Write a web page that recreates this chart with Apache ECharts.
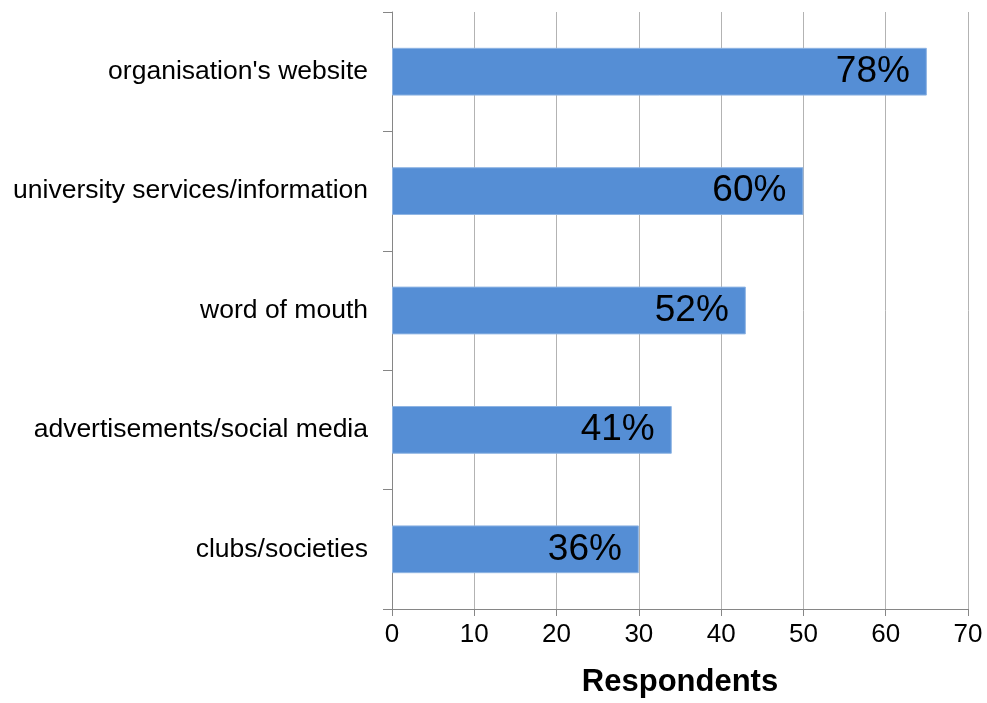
<!DOCTYPE html>
<html><head><meta charset="utf-8">
<script src="https://cdn.jsdelivr.net/npm/echarts@6/dist/echarts.min.js"></script>
<style>html,body{margin:0;padding:0;background:#fff}#c{width:987px;height:703px}</style>
</head><body><div id="c"></div>
<script>
const categories = ["clubs/societies", "advertisements/social media", "word of mouth", "university services/information", "organisation's website"];
const respondents = [30, 34, 43, 50, 65];
const percentLabels = ["36%", "41%", "52%", "60%", "78%"];
const xTicks = { min: 0, max: 70, interval: 10 };
const axisTitle = "Respondents";

const chart = echarts.init(document.getElementById('c'));
chart.setOption({
  animation: false,
  backgroundColor: '#ffffff',
  textStyle: { fontFamily: 'Liberation Sans, Arial, sans-serif' },
  grid: { left: 392, right: 19, top: 12, bottom: 86, containLabel: false },
  xAxis: {
    type: 'value', min: xTicks.min, max: xTicks.max, interval: xTicks.interval,
    name: axisTitle, nameLocation: 'middle', nameGap: 58,
    nameTextStyle: { fontSize: 31, fontWeight: 'bold', color: '#000', fontFamily: 'Liberation Sans, Arial, sans-serif' },
    axisLine: { show: true, lineStyle: { color: '#868686', width: 1 } },
    axisTick: { show: true, length: 7, lineStyle: { color: '#868686' } },
    axisLabel: { fontSize: 26, color: '#000', margin: 13, fontFamily: 'Liberation Sans, Arial, sans-serif' },
    splitLine: { show: true, lineStyle: { color: '#b3b3b3', width: 1 } }
  },
  yAxis: {
    type: 'category', data: categories,
    axisLine: { show: true, lineStyle: { color: '#868686', width: 1 } },
    axisTick: { show: true, length: 9, lineStyle: { color: '#868686' } },
    axisLabel: { fontSize: 26.5, color: '#000', margin: 24, fontFamily: 'Liberation Sans, Arial, sans-serif' },
    splitLine: { show: false }
  },
  series: [{
    type: 'bar', data: respondents, barWidth: '40%',
    itemStyle: { color: '#558ed5', borderColor: '#8eb4e3', borderWidth: 1 },
    label: {
      show: true, position: 'insideRight', distance: 17,
      fontSize: 37, color: '#000', fontFamily: 'Liberation Sans, Arial, sans-serif',
      formatter: p => percentLabels[p.dataIndex]
    }
  }]
});
</script></body></html>
